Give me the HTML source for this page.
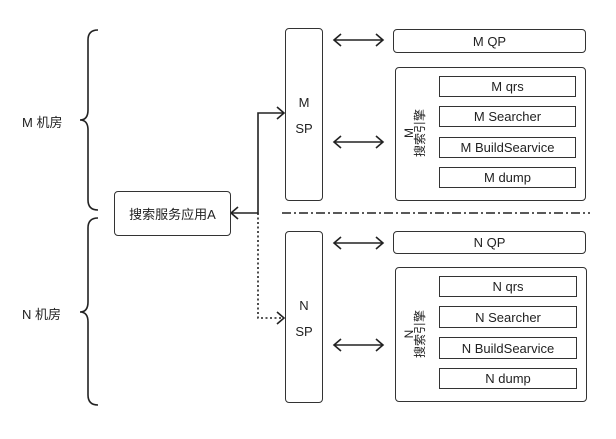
<!DOCTYPE html>
<html><head><meta charset="utf-8"><style>
body{margin:0;background:#fff;width:616px;height:439px;overflow:hidden;position:relative;font-family:"Liberation Sans","Noto Sans CJK SC",sans-serif;color:#222}
.b{position:absolute;border:1.6px solid #333;border-radius:4px;box-sizing:border-box;display:flex;align-items:center;justify-content:center;font-size:13px;background:#fff}
.i{border-radius:0;border-width:1.6px}
.t{position:absolute;font-size:13px}
.sp{position:absolute;border:1.6px solid #333;border-radius:4px;box-sizing:border-box;font-size:13px;text-align:center;line-height:26px;background:#fff}
</style></head><body>
<svg width="616" height="439" style="position:absolute;left:0;top:0" fill="none" stroke="#222" stroke-width="1.6">
<path d="M98 30 Q88 30 88 40 L88 110 Q88 120 80 120 Q88 120 88 130 L88 200 Q88 210 98 210"/>
<path d="M98 218 Q88 218 88 228 L88 302 Q88 312 80 312 Q88 312 88 322 L88 395 Q88 405 98 405"/>
<path d="M231 213 H258 V113 H284"/>
<path d="M238 207 L231 213 L238 219 M277 107 L284 113 L277 119"/>
<path d="M258 213 V318 H284" stroke-dasharray="2 2.5"/>
<path d="M277 312 L284 318 L277 324"/>
<path d="M282 213 H590" stroke-dasharray="9 3 2 3"/>
<g>
<path d="M334 40 H383 M341 34 L334 40 L341 46 M376 34 L383 40 L376 46"/>
<path d="M334 142 H383 M341 136 L334 142 L341 148 M376 136 L383 142 L376 148"/>
<path d="M334 243 H383 M341 237 L334 243 L341 249 M376 237 L383 243 L376 249"/>
<path d="M334 345 H383 M341 339 L334 345 L341 351 M376 339 L383 345 L376 351"/>
</g>
</svg>
<div class="t" style="left:22px;top:112px">M 机房</div>
<div class="t" style="left:22px;top:304px">N 机房</div>
<div class="b" style="left:114px;top:191px;width:117px;height:45px">搜索服务应用A</div>
<div class="sp" style="left:285px;top:28px;width:38px;height:173px;padding-top:61px">M<br>SP</div>
<div class="sp" style="left:285px;top:231px;width:38px;height:172px;padding-top:61px">N<br>SP</div>
<div class="b" style="left:393px;top:29px;width:193px;height:24px">M QP</div>
<div class="b" style="left:395px;top:67px;width:191px;height:134px"></div>
<div class="b i" style="left:439px;top:76px;width:137px;height:21px">M qrs</div>
<div class="b i" style="left:439px;top:106px;width:137px;height:21px">M Searcher</div>
<div class="b i" style="left:439px;top:137px;width:137px;height:21px">M BuildSearvice</div>
<div class="b i" style="left:439px;top:167px;width:137px;height:21px">M dump</div>
<div class="b" style="left:393px;top:231px;width:193px;height:23px">N QP</div>
<div class="b" style="left:395px;top:267px;width:192px;height:135px"></div>
<div class="b i" style="left:439px;top:276px;width:138px;height:21px">N qrs</div>
<div class="b i" style="left:439px;top:306px;width:138px;height:22px">N Searcher</div>
<div class="b i" style="left:439px;top:337px;width:138px;height:22px">N BuildSearvice</div>
<div class="b i" style="left:439px;top:368px;width:138px;height:21px">N dump</div>
<div class="t" style="left:385px;top:122px;width:60px;text-align:center;line-height:11px;font-size:12px;transform:rotate(-90deg)">M<br>搜索引擎</div>
<div class="t" style="left:385px;top:323px;width:60px;text-align:center;line-height:11px;font-size:12px;transform:rotate(-90deg)">N<br>搜索引擎</div>
</body></html>
